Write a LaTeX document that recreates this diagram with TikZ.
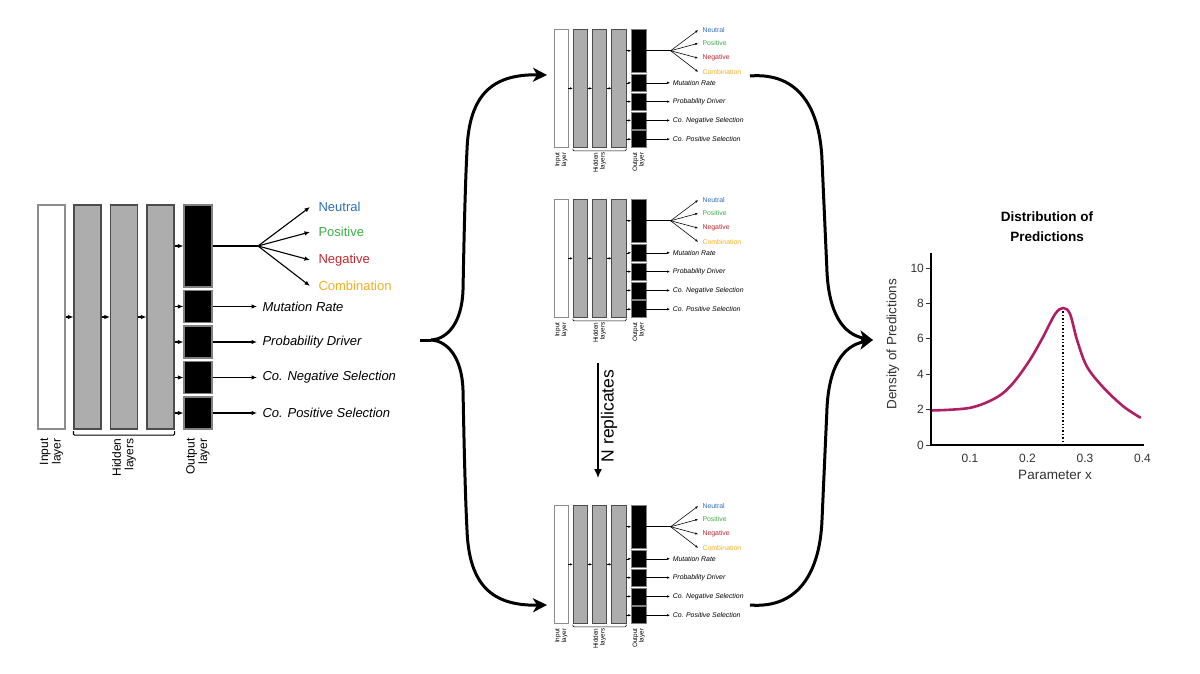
\documentclass[tikz,border=0pt]{standalone}
\usepackage{fontspec}
\setmainfont{Liberation Sans}
\usetikzlibrary{arrows.meta,calc}
\definecolor{cneu}{HTML}{2F6FC0}
\definecolor{cpos}{HTML}{3DAE49}
\definecolor{cneg}{HTML}{C1272D}
\definecolor{ccom}{HTML}{F5B01E}
\definecolor{curvecol}{RGB}{176,30,100}
\definecolor{tickgray}{HTML}{333333}
\tikzset{
  layin/.style={draw=black!45, fill=white, inner sep=0pt, minimum width=27pt, minimum height=224pt},
  layhid/.style={draw=black!70, fill=black!32, inner sep=0pt, minimum width=27pt, minimum height=224pt},
  layout/.style={draw=black!50, fill=black, inner sep=0pt, minimum width=28pt},
  outlab/.style={font=\fontsize{13}{15}\selectfont\itshape, inner xsep=5pt, inner ysep=1pt, anchor=west},
  collab/.style={font=\fontsize{13}{15}\selectfont, inner xsep=8pt, inner ysep=1pt, anchor=west},
  laylab/.style={font=\fontsize{12}{12.5}\selectfont, align=right, inner sep=0pt, rotate=90, anchor=east},
  bigarrow/.style={line width=3pt, -{Stealth[length=14pt,width=14pt,inset=4pt]}},
  bracepath/.style={line width=3pt},
  ticklab/.style={font=\fontsize{12}{14}\selectfont, text=tickgray, inner sep=1.5pt},
}
\newcommand\drawnet[4]{%
  \pgfmathsetlengthmacro\nlw{1.1pt*#3}%
  \pgfmathsetlengthmacro\nal{5.5pt*#3}%
  \pgfmathsetlengthmacro\naw{4.5pt*#3}%
  \begin{scope}[shift={(#1,#2)}, scale=#3, transform shape, line width=\nlw,
      netarrow/.style={-{Latex[length=\nal,width=\naw]}}]
    \node[layin] (#4in) at (13.5,112) {};
    \node[layhid] (#4ha) at (49.5,112) {};
    \node[layhid] (#4hb) at (86,112) {};
    \node[layhid] (#4hc) at (122.5,112) {};
    \node[layout, minimum height=82pt] (#4oa) at (160,41) {};
    \node[layout, minimum height=32pt] (#4ob) at (160,101.5) {};
    \node[layout, minimum height=32pt] (#4oc) at (160,137) {};
    \node[layout, minimum height=32pt] (#4od) at (160,172.5) {};
    \node[layout, minimum height=32pt] (#4oe) at (160,208) {};
    \draw[netarrow] (#4in.east) -- (#4ha.west);
    \draw[netarrow] (#4ha.east) -- (#4hb.west);
    \draw[netarrow] (#4hb.east) -- (#4hc.west);
    \foreach \o in {oa,ob,oc,od,oe}{\draw[netarrow] (#4\o.west -| #4hc.east) -- (#4\o.west);}
    \coordinate (#4fan) at (220,41);
    \draw (#4oa.east) -- (#4fan);
    \node[collab, text=cneu] (#4ca) at (272,2) {Neutral};
    \node[collab, text=cpos] (#4cb) at (272,27) {Positive};
    \node[collab, text=cneg] (#4cc) at (272,55) {Negative};
    \node[collab, text=ccom] (#4cd) at (272,81) {Combination};
    \foreach \c in {ca,cb,cc,cd}{\draw[netarrow] (#4fan) -- (#4\c.west);}
    \node[outlab] (#4lb) at (219,101.5) {Mutation Rate};
    \node[outlab] (#4lc) at (219,137) {Probability Driver};
    \node[outlab] (#4ld) at (219,172.5) {Co. Negative Selection};
    \node[outlab] (#4le) at (219,208) {Co. Positive Selection};
    \foreach \o/\l in {ob/lb,oc/lc,od/ld,oe/le}{\draw[netarrow] (#4\o.east) -- (#4\l.west);}
    \draw[rounded corners=1pt] ($(#4ha.south west)+(0,1.5)$) -- ++(0,4) -| ($(#4hc.south east)+(0,1.5)$);
    \node[laylab] (#4tin) at (13.5,233) {Input\\layer};
    \node[laylab] (#4thid) at (86,233) {Hidden\\layers};
    \node[laylab] (#4tout) at (160,233) {Output\\layer};
  \end{scope}}
\begin{document}
\begin{tikzpicture}[x=1pt,y=-1pt]
\fill[white] (0,0) rectangle (1200,674);
\useasboundingbox (0,0) rectangle (1200,674);

% networks
\drawnet{38}{205}{1}{A}
\drawnet{554}{29}{0.53}{B}
\drawnet{554}{199}{0.53}{C}
\drawnet{554}{505}{0.53}{D}

% left brace
\coordinate (lbtip) at (420,340);
\coordinate (lbj) at (431,340);
\coordinate (lbtop) at (547,75);
\coordinate (lbbot) at (547,605);
\draw[bracepath] (lbtip) -- (lbj);
\draw[bigarrow] (lbj) .. controls (448,339) and (462,322) .. (463,290) .. controls (464,240) and (465,190) .. (467,150) .. controls (469,95) and (492,74) .. (lbtop);
\draw[bigarrow] (lbj) .. controls (448,341) and (462,358) .. (463,390) .. controls (464,440) and (465,490) .. (467,530) .. controls (469,585) and (492,606) .. (lbbot);

% right brace
\coordinate (rbtop) at (750,76);
\coordinate (rbbot) at (750,605);
\coordinate (rbtip) at (873,340);
\draw[bigarrow] (rbtop) .. controls (800,72) and (820,110) .. (822,160) -- (827,272) .. controls (829,312) and (842,334) .. (rbtip);
\draw[bigarrow] (rbbot) .. controls (800,609) and (820,570) .. (822,520) -- (827,408) .. controls (829,368) and (842,346) .. (rbtip);

% N replicates
\coordinate (nrs) at (598,363);
\coordinate (nre) at (598,478);
\draw[line width=1.5pt, -{Latex[length=9pt,width=8pt]}] (nrs) -- (nre);
\node[font=\fontsize{17.5}{19}\selectfont, rotate=90, inner sep=0pt] (nrep) at (609,416) {N replicates};

% plot
\node[font=\fontsize{13.5}{20}\selectfont\bfseries, align=center] (ptitle) at (1047,227) {Distribution of\\Predictions};
\node[font=\fontsize{13.5}{15}\selectfont, text=tickgray, rotate=90] (ylab) at (893,344) {Density of Predictions};
\node[font=\fontsize{13.5}{15}\selectfont, text=tickgray] (xlab) at (1055,475) {Parameter x};
\begin{scope}[shift={(912.5,445)}, x=575pt, y=17.7pt]
  \coordinate (ax0) at (0.032,0);
  \coordinate (axy) at (0.032,10.85);
  \coordinate (axx) at (0.402,0);
  \foreach \d in {0,2,4,6,8,10}{
    \draw[line width=1pt, tickgray] (0.032,\d) -- ++(-5pt,0) node[ticklab, anchor=east] (yt\d) {\d};
  }
  \foreach \v/\n in {0.1/a,0.2/b,0.3/c,0.4/d}{
    \node[ticklab, anchor=north, yshift=-7pt] (xt\n) at (\v,0) {\v};
  }
  \coordinate (peak) at (0.262,7.74);
  \coordinate (peakbase) at (0.262,0);
  \draw[dotted, line width=1.4pt] (peak) -- (peakbase);
  \draw[curvecol, line width=2.6pt, line cap=round] plot[smooth, tension=0.55] coordinates {
    (0.032,1.95) (0.1,2.1) (0.147,2.7) (0.175,3.5) (0.204,4.8) (0.227,6.1)
    (0.248,7.4) (0.262,7.74) (0.274,7.4) (0.286,5.95) (0.303,4.45)
    (0.331,3.28) (0.366,2.2) (0.396,1.55)};
  \draw[line width=2pt] (axy) -- (ax0) -- (axx);
\end{scope}
\end{tikzpicture}
\end{document}
